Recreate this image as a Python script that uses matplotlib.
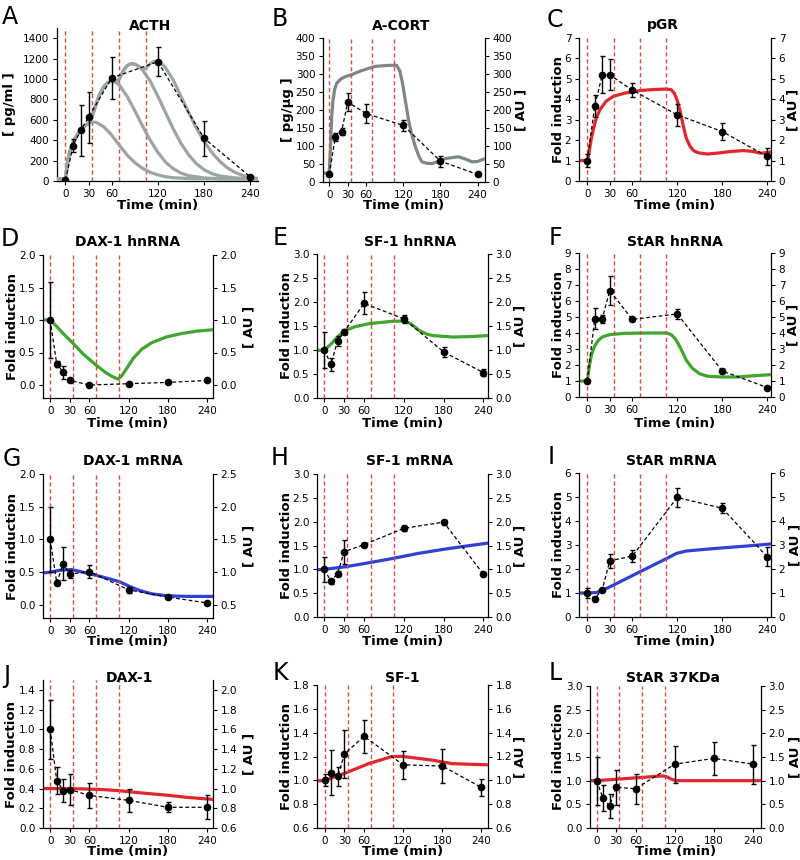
import matplotlib.pyplot as plt

W, H = 800, 860

times = [0, 10, 20, 30, 60, 120, 180, 240]
pulses = [0, 35, 70, 105]
xticks = [0, 30, 60, 120, 180, 240]

# measured data (mean, error)
acth_mean = [10, 347, 500, 625, 1010, 1170, 419, 40]
acth_err = [8, 60, 250, 250, 210, 140, 170, 5]
cort_mean = [21, 125, 140, 222, 190, 157, 58, 21]
cort_err = [3, 10, 10, 25, 27, 15, 15, 3]
pgr_mean = [1.0, 3.68, 5.2, 5.2, 4.45, 3.24, 2.42, 1.2]
pgr_err = [0.3, 0.55, 0.9, 0.75, 0.35, 0.55, 0.4, 0.4]
dax_hn_mean = [1.0, 0.32, 0.2, 0.07, 0.0, 0.02, 0.04, 0.07]
dax_hn_err = [0.58, 0.05, 0.1, 0.02, 0.01, 0.01, 0.01, 0.01]
sf1_hn_mean = [1.0, 0.7, 1.19, 1.38, 1.97, 1.65, 0.96, 0.53]
sf1_hn_err = [0.38, 0.14, 0.1, 0.05, 0.23, 0.08, 0.1, 0.07]
star_hn_mean = [1.0, 4.9, 4.9, 6.65, 4.85, 5.19, 1.63, 0.59]
star_hn_err = [0.1, 0.68, 0.25, 0.9, 0.1, 0.3, 0.1, 0.05]
dax_m_mean = [1.0, 0.34, 0.63, 0.47, 0.51, 0.23, 0.12, 0.03]
dax_m_err = [0.5, 0.04, 0.25, 0.06, 0.1, 0.05, 0.02, 0.01]
sf1_m_mean = [1.0, 0.75, 0.91, 1.37, 1.52, 1.86, 1.99, 0.9]
sf1_m_err = [0.26, 0.05, 0.06, 0.25, 0.03, 0.05, 0.05, 0.03]
star_m_mean = [1.0, 0.77, 1.14, 2.34, 2.54, 4.98, 4.53, 2.51]
star_m_err = [0.2, 0.04, 0.05, 0.3, 0.25, 0.4, 0.2, 0.4]
dax_p_mean = [1.0, 0.48, 0.38, 0.39, 0.33, 0.28, 0.21, 0.21]
dax_p_err = [0.3, 0.14, 0.12, 0.16, 0.13, 0.12, 0.05, 0.12]
sf1_p_mean = [1.0, 1.063, 1.035, 1.22, 1.37, 1.13, 1.12, 0.94]
sf1_p_err = [0.05, 0.19, 0.08, 0.2, 0.14, 0.12, 0.14, 0.07]
star_p_mean = [1.0, 0.63, 0.47, 0.86, 0.83, 1.35, 1.47, 1.35]
star_p_err = [0.51, 0.28, 0.25, 0.37, 0.32, 0.39, 0.34, 0.41]

# model curves
acth_fit1_t = [-11, 0, 3, 6, 10, 15, 20, 25, 30, 35, 40, 50, 60, 70, 80, 90, 100, 110, 120, 130, 140, 160, 200, 250]
acth_fit1_v = [20, 20, 200, 300, 380, 450, 500, 540, 565, 578, 575, 530, 450, 350, 255, 180, 125, 85, 60, 42, 32, 24, 20, 20]
acth_fit2_t = [-11, 0, 3, 6, 10, 15, 20, 25, 30, 35, 40, 45, 50, 55, 60, 65, 70, 80, 90, 100, 110, 120, 130, 140, 150, 160, 180, 200, 250]
acth_fit2_v = [20, 20, 200, 300, 380, 450, 500, 540, 565, 640, 760, 860, 925, 965, 980, 970, 940, 830, 690, 540, 400, 280, 185, 120, 78, 52, 30, 22, 20]
acth_fit3_t = [-11, 0, 3, 6, 10, 15, 20, 25, 30, 35, 40, 45, 50, 55, 60, 65, 70, 75, 80, 85, 90, 95, 100, 110, 120, 130, 140, 150, 160, 170, 180, 190, 200, 220, 250]
acth_fit3_v = [20, 20, 200, 300, 380, 450, 500, 540, 565, 640, 760, 860, 925, 965, 980, 970, 1000, 1080, 1130, 1150, 1145, 1125, 1090, 980, 830, 670, 510, 370, 255, 170, 110, 72, 50, 30, 20]
acth_fit4_t = [-11, 0, 3, 6, 10, 15, 20, 25, 30, 35, 40, 45, 50, 55, 60, 65, 70, 75, 80, 85, 90, 95, 100, 105, 110, 115, 120, 125, 130, 140, 150, 160, 170, 180, 190, 200, 210, 220, 230, 240, 250]
acth_fit4_v = [20, 20, 200, 300, 380, 450, 500, 540, 565, 640, 760, 860, 925, 965, 980, 970, 1000, 1080, 1130, 1150, 1145, 1125, 1090, 1110, 1150, 1172, 1170, 1150, 1110, 990, 830, 670, 520, 390, 280, 195, 130, 85, 55, 35, 24]
cort_fit_t = [-10, 0, 2, 4, 6, 9, 12, 18, 25, 36, 50, 74, 95, 109, 114, 118, 123, 128, 133, 139, 145, 150, 158, 166, 178, 188, 200, 209, 220, 231, 240, 252]
cort_fit_v = [25, 25, 90, 180, 225, 258, 274, 285, 292, 298, 308, 321, 324, 324, 310, 280, 228, 175, 135, 100, 72, 56, 52, 51, 58, 65, 68, 70, 64, 56, 57, 65]
pgr_fit_t = [-11, 0, 2, 5, 8, 12, 17, 25, 35, 50, 70, 90, 106, 112, 116, 120, 124, 128, 132, 137, 142, 148, 160, 175, 190, 208, 220, 232, 245]
pgr_fit_v = [1.0, 1.0, 1.3, 2.0, 2.5, 3.1, 3.5, 3.9, 4.15, 4.3, 4.43, 4.48, 4.5, 4.47, 4.3, 3.95, 3.4, 2.7, 2.1, 1.7, 1.48, 1.38, 1.32, 1.37, 1.44, 1.49, 1.45, 1.36, 1.42]
dax_hn_fit_t = [-11, 0, 10, 20, 36, 50, 71, 85, 95, 104, 110, 118, 127, 140, 155, 178, 200, 225, 249]
dax_hn_fit_v = [1.0, 1.0, 0.9, 0.79, 0.63, 0.48, 0.3, 0.19, 0.13, 0.09, 0.15, 0.27, 0.41, 0.55, 0.65, 0.74, 0.79, 0.83, 0.85]
sf1_hn_fit_t = [-11, 0, 10, 19, 31, 45, 68, 90, 104, 120, 130, 144, 155, 164, 194, 220, 247]
sf1_hn_fit_v = [0.99, 1.0, 1.12, 1.26, 1.4, 1.48, 1.55, 1.58, 1.6, 1.6, 1.55, 1.4, 1.33, 1.3, 1.27, 1.28, 1.3]
star_hn_fit_t = [-11, 0, 3, 6, 10, 15, 20, 30, 50, 80, 105, 112, 118, 125, 132, 140, 150, 160, 180, 200, 220, 245]
star_hn_fit_v = [1.0, 1.0, 2.0, 2.7, 3.2, 3.55, 3.75, 3.9, 3.98, 4.0, 4.0, 3.9, 3.6, 3.0, 2.3, 1.8, 1.45, 1.3, 1.25, 1.25, 1.32, 1.4]
dax_m_fit_t = [-11, 0, 15, 33, 50, 71, 90, 107, 122, 137, 155, 178, 210, 249]
dax_m_fit_v = [0.99, 1.0, 1.03, 1.04, 1.0, 0.95, 0.9, 0.85, 0.78, 0.72, 0.67, 0.64, 0.63, 0.63]
sf1_m_fit_t = [-11, 0, 30, 60, 104, 140, 180, 215, 247]
sf1_m_fit_v = [0.99, 1.0, 1.05, 1.12, 1.23, 1.33, 1.42, 1.49, 1.55]
star_m_fit_t = [-11, 0, 12, 21, 35, 70, 106, 119, 132, 172, 210, 244]
star_m_fit_v = [1.0, 1.0, 1.02, 1.12, 1.33, 1.88, 2.44, 2.65, 2.75, 2.86, 2.95, 3.04]
dax_p_fit_t = [-11, 0, 40, 80, 107, 140, 178, 210, 249]
dax_p_fit_v = [1.0, 1.0, 0.998, 0.99, 0.977, 0.955, 0.933, 0.91, 0.89]
sf1_p_fit_t = [-12, 0, 31, 67, 103, 120, 164, 195, 250]
sf1_p_fit_v = [0.995, 1.0, 1.06, 1.14, 1.2, 1.2, 1.17, 1.14, 1.13]
star_p_fit_t = [-10, 0, 30, 71, 100, 106, 115, 122, 252]
star_p_fit_v = [1.0, 1.0, 1.03, 1.07, 1.1, 1.09, 1.03, 1.0, 1.0]

RED = '#e3262b'
GREEN = '#3fa62c'
BLUE = '#3040d8'
PULSE = '#d94a4a'

fig = plt.figure(figsize=(W / 100, H / 100), dpi=100)


def rect(l, t, r, b):
    return [l / W, 1 - b / H, (r - l) / W, (b - t) / H]


def style(ax, sides):
    for s in ['top', 'left', 'right', 'bottom']:
        ax.spines[s].set_visible(s in sides)
        ax.spines[s].set_linewidth(0.9)
    ax.tick_params(direction='out', length=3, width=0.8, labelsize=7.5, pad=2.5)


f1 = [0, 0.5, 1.0, 1.5, 2.0]
f3 = [0, 0.5, 1.0, 1.5, 2.0, 2.5, 3.0]

# box = (left, top, right, bottom) in pixels; pos = text anchors in pixels
specs = [
    dict(box=(57, 28, 258, 181), xlim=(-11, 250), ylim=(0, 1500), yticks=list(range(0, 1401, 200)),
         mean=acth_mean, err=acth_err,
         fits=[(acth_fit1_t, acth_fit1_v), (acth_fit2_t, acth_fit2_v), (acth_fit3_t, acth_fit3_v), (acth_fit4_t, acth_fit4_v)],
         color='#9ca6a1', title='ACTH', letter='A', ylabel='[ pg/ml ]', right=False,
         pos=dict(title=(150, 29.5), letter=(10, 24), yl=10, yr=None, xl=209)),
    dict(box=(323, 38, 485, 182), xlim=(-10, 252), ylim=(0, 400), yticks=list(range(0, 401, 50)),
         mean=cort_mean, err=cort_err, fits=[(cort_fit_t, cort_fit_v)],
         color='#7d8886', title='A-CORT', letter='B', ylabel='[ pg/μg ]',
         pos=dict(title=(401, 29.5), letter=(280, 26), yl=288, yr=521, xl=209)),
    dict(box=(579, 38, 771, 181), xlim=(-11, 245), ylim=(0, 7), yticks=list(range(0, 8)),
         mean=pgr_mean, err=pgr_err, fits=[(pgr_fit_t, pgr_fit_v)],
         color=RED, title='pGR', letter='C', ylabel='Fold induction',
         pos=dict(title=(663, 29.5), letter=(555, 27), yl=559, yr=793, xl=209)),
    dict(box=(43, 255, 213, 398), xlim=(-11, 249), ylim=(-0.2, 2.0), yticks=f1,
         mean=dax_hn_mean, err=dax_hn_err, fits=[(dax_hn_fit_t, dax_hn_fit_v)],
         color=GREEN, title='DAX-1 hnRNA', letter='D', ylabel='Fold induction',
         pos=dict(title=(128, 246.5), letter=(10, 246), yl=13, yr=249, xl=427)),
    dict(box=(317, 254, 488, 398), xlim=(-11, 247), ylim=(0, 3.0), yticks=f3,
         mean=sf1_hn_mean, err=sf1_hn_err, fits=[(sf1_hn_fit_t, sf1_hn_fit_v)],
         color=GREEN, title='SF-1 hnRNA', letter='E', ylabel='Fold induction',
         pos=dict(title=(410, 246.5), letter=(280, 245), yl=286, yr=520, xl=427)),
    dict(box=(579, 253, 771, 397), xlim=(-11, 245), ylim=(0, 9), yticks=list(range(0, 10)),
         mean=star_hn_mean, err=star_hn_err, fits=[(star_hn_fit_t, star_hn_fit_v)],
         color=GREEN, title='StAR hnRNA', letter='F', ylabel='Fold induction',
         pos=dict(title=(675, 246.5), letter=(555, 245), yl=559, yr=793, xl=427)),
    dict(box=(43, 474, 213, 618), xlim=(-11, 249), ylim=(-0.2, 2.0), yticks=f1,
         ylim2=(0.3, 2.5), yticks2=[0.5, 1.0, 1.5, 2.0, 2.5],
         mean=dax_m_mean, err=dax_m_err, fits=[(dax_m_fit_t, dax_m_fit_v)],
         color=BLUE, title='DAX-1 mRNA', letter='G', ylabel='Fold induction',
         pos=dict(title=(133, 465), letter=(12, 466), yl=13, yr=249, xl=645)),
    dict(box=(317, 474, 488, 617), xlim=(-11, 247), ylim=(0, 3.0), yticks=f3,
         mean=sf1_m_mean, err=sf1_m_err, fits=[(sf1_m_fit_t, sf1_m_fit_v)],
         color=BLUE, title='SF-1 mRNA', letter='H', ylabel='Fold induction',
         pos=dict(title=(410, 465), letter=(280, 465), yl=286, yr=520, xl=645)),
    dict(box=(579, 473, 771, 617), xlim=(-11, 245), ylim=(0, 6), yticks=list(range(0, 7)),
         mean=star_m_mean, err=star_m_err, fits=[(star_m_fit_t, star_m_fit_v)],
         color=BLUE, title='StAR mRNA', letter='I', ylabel='Fold induction',
         pos=dict(title=(671, 465), letter=(551, 464), yl=558, yr=795, xl=645)),
    dict(box=(43, 680, 213, 828), xlim=(-11, 249), ylim=(0, 1.5), yticks=[0, 0.2, 0.4, 0.6, 0.8, 1.0, 1.2, 1.4],
         ylim2=(0.6, 2.1), yticks2=[0.6, 0.8, 1.0, 1.2, 1.4, 1.6, 1.8, 2.0],
         mean=dax_p_mean, err=dax_p_err, fits=[(dax_p_fit_t, dax_p_fit_v)],
         color=RED, title='DAX-1', letter='J', ylabel='Fold induction',
         pos=dict(title=(129, 682), letter=(7, 683), yl=12, yr=249, xl=855)),
    dict(box=(317, 685, 488, 828), xlim=(-12, 250), ylim=(0.6, 1.8), yticks=[0.6, 0.8, 1.0, 1.2, 1.4, 1.6, 1.8],
         mean=sf1_p_mean, err=sf1_p_err, fits=[(sf1_p_fit_t, sf1_p_fit_v)],
         color=RED, title='SF-1', letter='K', ylabel='Fold induction',
         pos=dict(title=(402, 682), letter=(280, 680), yl=286, yr=520, xl=855)),
    dict(box=(590, 686, 761, 828), xlim=(-10, 252), ylim=(0, 3.0), yticks=f3,
         mean=star_p_mean, err=star_p_err, fits=[(star_p_fit_t, star_p_fit_v)],
         color=RED, title='StAR 37KDa', letter='L', ylabel='Fold induction',
         pos=dict(title=(673, 682), letter=(555, 680), yl=559, yr=795, xl=855)),
]

for s in specs:
    l, t, r, b = s['box']
    ax = fig.add_axes(rect(l, t, r, b))
    ax.set_xlim(*s['xlim'])
    ax.set_ylim(*s['ylim'])
    ax.set_xticks(xticks)
    ax.set_yticks(s['yticks'])
    is_float = any(isinstance(v, float) for v in s['yticks'])
    fmt = plt.FormatStrFormatter('%.1f' if is_float else '%d')
    ax.yaxis.set_major_formatter(fmt)
    for p in pulses:
        ax.axvline(p, color=PULSE, lw=1, ls=(0, (3, 2)), zorder=1)
    target = ax
    if s.get('right', True):
        ax2 = ax.twinx()
        ax2.set_ylim(*s.get('ylim2', s['ylim']))
        ax2.set_yticks(s.get('yticks2', s['yticks']))
        ax2.yaxis.set_major_formatter(fmt)
        # model curve sits behind the data points
        ax2.set_zorder(ax.get_zorder() - 1)
        ax.patch.set_visible(False)
        style(ax2, ['right'])
        target = ax2
    style(ax, ['left', 'bottom'])
    for ft, fv in s['fits']:
        target.plot(ft, fv, color=s['color'], lw=2.3, zorder=3)
    ax.plot(times, s['mean'], color='black', lw=0.9, ls=(0, (3, 2)), zorder=4)
    ax.errorbar(times, s['mean'], yerr=s['err'], fmt='o', color='black', ms=4.5,
                elinewidth=1, capsize=1.8, capthick=1, zorder=5)

    pos = s['pos']
    fig.text(pos['title'][0] / W, 1 - pos['title'][1] / H, s['title'],
             ha='center', va='baseline', fontsize=10, fontweight='bold')
    fig.text(pos['letter'][0] / W, 1 - pos['letter'][1] / H, s['letter'],
             ha='center', va='baseline', fontsize=17)
    fig.text((l + r) / 2 / W, 1 - pos['xl'] / H, 'Time (min)',
             ha='center', va='baseline', fontsize=9.5, fontweight='bold')
    fig.text(pos['yl'] / W, 1 - (t + b) / 2 / H, s['ylabel'], rotation=90,
             ha='center', va='center', fontsize=9.5, fontweight='bold')
    if pos['yr'] is not None:
        fig.text(pos['yr'] / W, 1 - (t + b) / 2 / H, '[ AU ]', rotation=90,
                 ha='center', va='center', fontsize=9.5, fontweight='bold')

fig.savefig('out.png', dpi=100)
